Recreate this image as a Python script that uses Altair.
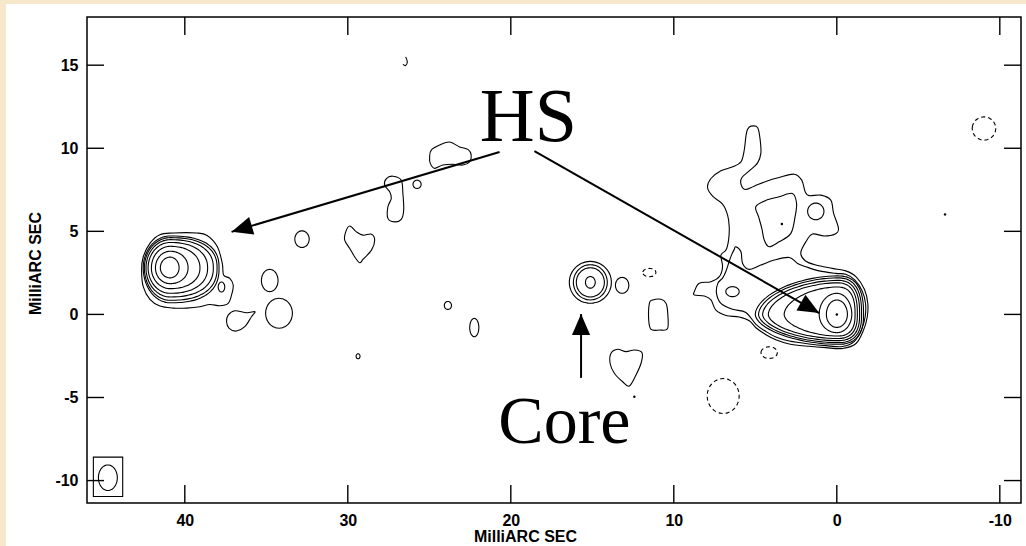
import altair as alt
import numpy as np
import pandas as pd

# ---- frame (milliarcseconds, RA increases to the left) ----
X_DOMAIN = [46.0, -11.3]
Y_DOMAIN = [-11.35, 17.9]
W, H = 934, 486

x_ticks = [40, 30, 20, 10, 0, -10]
y_ticks = [15, 10, 5, 0, -5, -10]

# ---- nested contours of the western hot spot (egg-shaped levels) ----
lh_center = (40.90, 2.80)
lh_x_hi = [41.50, 41.80, 42.05, 42.25, 42.38, 42.48, 42.55]
lh_x_lo = [40.35, 39.80, 39.07, 38.60, 38.25, 38.02, 37.90]
lh_y_hi = [3.45, 3.80, 4.10, 4.33, 4.50, 4.62, 4.72]
lh_y_lo = [2.20, 1.85, 1.55, 1.27, 1.05, 0.85, 0.70]

# lowest level around the western hot spot, with its eastern lobe
lh_outer = [(42.65, 2.67), (42.55, 3.47), (42.14, 4.28), (41.53, 4.80), (40.71, 4.90),
            (39.28, 4.90), (38.63, 4.75), (38.00, 4.07), (37.70, 3.07), (37.62, 2.37),
            (37.24, 2.17), (37.03, 1.77), (37.13, 1.17), (37.34, 0.67), (37.85, 0.52),
            (38.46, 0.60), (39.07, 0.46), (39.89, 0.38), (40.71, 0.38), (41.53, 0.50),
            (42.14, 0.90), (42.55, 1.67)]

# ---- nested contours of the eastern hot spot ----
rh_center = (0.0, 0.0)
rh_x_hi = [0.64, 1.08, 3.23, 4.20, 4.55, 4.80, 5.00]
rh_x_lo = [-0.65, -0.92, -1.12, -1.26, -1.40, -1.52, -1.64]
rh_y_hi = [0.87, 1.27, 1.65, 1.90, 2.05, 2.20, 2.32]
rh_y_lo = [-0.78, -1.10, -1.30, -1.45, -1.58, -1.70, -1.80]

# lowest level: eastern hot spot, jet and the diffuse emission to the north
jet_outer = [(5.27, 11.33), (4.86, 11.25), (4.70, 10.49), (4.66, 9.69), (4.86, 9.12),
             (5.37, 8.64), (5.82, 8.24), (5.88, 7.84), (5.62, 7.52), (5.07, 7.72),
             (4.31, 8.02), (3.54, 8.24), (2.62, 8.44), (2.15, 8.08), (1.94, 7.38),
             (1.70, 7.15), (0.98, 7.18), (0.37, 6.88), (0.20, 6.10), (-0.10, 5.18),
             (0.10, 4.84), (0.78, 4.72), (1.49, 4.84), (1.90, 4.37), (2.21, 3.71),
             (1.94, 3.23), (1.29, 2.97), (0.27, 2.77), (-0.55, 2.62), (-1.20, 2.25),
             (-1.70, 1.50), (-1.90, 0.67), (-1.87, -0.14), (-1.64, -0.94), (-1.18, -1.75),
             (-0.35, -2.05), (0.68, -2.00), (1.70, -1.92), (2.92, -1.78), (3.74, -1.52),
             (4.35, -1.22), (4.96, -0.80), (5.37, -0.38), (5.99, -0.16), (6.80, -0.06),
             (7.42, 0.26), (7.72, 0.87), (8.13, 1.11), (8.74, 1.17), (8.74, 1.37),
             (8.44, 1.87), (7.72, 1.97), (7.21, 2.27), (7.01, 2.87), (7.11, 3.57),
             (6.80, 3.87), (6.64, 4.47), (6.60, 5.28), (6.70, 5.98), (7.01, 6.64),
             (7.62, 7.12), (7.93, 7.64), (7.72, 8.18), (7.11, 8.64), (6.39, 8.88),
             (5.88, 9.18), (5.68, 9.88), (5.58, 10.69), (5.48, 11.13)]

# second level around the eastern hot spot and jet
jet_second = [(6.30, 3.90), (6.19, 4.07), (5.88, 3.77), (5.78, 3.07), (5.37, 2.71),
              (4.66, 2.97), (3.84, 3.27), (2.92, 3.43), (2.41, 3.07), (1.90, 2.87),
              (1.08, 2.62), (0.06, 2.47), (-0.55, 2.42), (-1.10, 2.08), (-1.55, 1.42),
              (-1.76, 0.67), (-1.74, -0.14), (-1.52, -0.90), (-1.08, -1.62), (-0.35, -1.93),
              (0.68, -1.88), (1.70, -1.78), (2.92, -1.60), (3.74, -1.36), (4.35, -1.03),
              (4.96, -0.60), (5.58, 0.12), (6.40, 0.31), (7.11, 0.67), (7.38, 1.27),
              (7.30, 1.87), (7.00, 2.20), (6.80, 2.60), (6.60, 3.20), (6.45, 3.60)]

# second level in the northern diffuse emission
north_second = [(4.97, 6.48), (4.31, 6.88), (3.54, 7.08), (2.72, 7.28), (2.47, 6.68),
                (2.56, 5.88), (2.82, 4.88), (3.54, 4.37), (4.15, 4.07), (4.45, 4.47),
                (4.60, 5.18), (4.80, 5.88)]

# ---- isolated low-level islands ----
island_teardrop = [(37.34, -0.04), (36.93, 0.22), (36.21, 0.10), (35.70, 0.16), (35.91, -0.14),
                   (36.32, -0.74), (36.83, -1.00), (37.28, -0.84), (37.44, -0.44)]
island_heart_w = [(29.88, 5.32), (29.47, 4.97), (29.07, 4.77), (28.55, 4.83), (28.35, 4.47),
                  (28.55, 3.87), (29.07, 3.31), (29.27, 3.11), (29.58, 3.47), (29.88, 3.97),
                  (30.19, 4.47), (30.13, 4.97)]
island_finger = [(27.63, 8.18), (27.23, 8.32), (26.72, 8.08), (26.62, 7.28), (26.57, 6.28),
                 (26.72, 5.72), (27.13, 5.57), (27.54, 5.78), (27.54, 6.48), (27.33, 6.98),
                 (27.43, 7.38), (27.74, 7.78)]
island_north = [(24.88, 9.89), (24.37, 10.19), (23.76, 10.38), (23.14, 10.08), (22.63, 9.93),
                (22.43, 9.59), (22.53, 9.18), (22.94, 8.99), (23.55, 9.04), (24.17, 8.99),
                (24.68, 8.79), (24.94, 9.09), (24.98, 9.48)]
island_box = [(11.50, 0.67), (11.30, 0.87), (10.78, 0.91), (10.48, 0.67), (10.38, 0.16),
              (10.38, -0.84), (10.89, -0.94), (11.40, -0.90), (11.54, -0.34)]
island_heart_s = [(13.85, -2.34), (13.44, -2.10), (12.93, -2.24), (12.42, -2.14), (11.95, -2.30),
                  (12.01, -2.94), (12.32, -3.64), (12.73, -4.31), (13.14, -4.05), (13.65, -3.54),
                  (13.91, -2.94)]
hook_top = [(26.45, 15.50), (26.35, 15.20), (26.45, 14.98), (26.62, 15.05)]

# ---- small elliptical contours (centre, semi-axes) ----
ell_x = [34.79, 34.22, 32.81, 25.75, 29.37, 23.86, 22.24,
         15.12, 15.12, 15.12, 15.12, 13.17, 1.29, 6.40, 37.75, 44.72]
ell_y = [2.04, 0.07, 4.53, 7.83, -2.52, 0.54, -0.79,
         1.93, 1.93, 1.93, 1.93, 1.75, 6.20, 1.37, 1.65, -9.83]
ell_rx = [0.51, 0.82, 0.44, 0.25, 0.12, 0.22, 0.28,
          0.30, 0.86, 1.04, 1.29, 0.41, 0.50, 0.41, 0.20, 0.58]
ell_ry = [0.67, 0.90, 0.50, 0.25, 0.15, 0.24, 0.55,
          0.35, 0.88, 1.06, 1.26, 0.48, 0.50, 0.30, 0.30, 0.77]

# negative contours (dashed)
neg_x = [11.50, 6.97, 4.15, -9.03]
neg_y = [2.52, -4.91, -2.30, 11.19]
neg_rx = [0.40, 0.98, 0.50, 0.72]
neg_ry = [0.25, 1.05, 0.35, 0.70]

# peak markers
dot_x = [0.0, 3.37, 12.42, -6.64]
dot_y = [0.0, 5.44, -4.95, 6.02]

# restoring-beam box
beam_box_x = [45.61, 43.81]
beam_box_y = [-8.59, -10.96]

# annotation arrows: start -> tip
arrow_x0 = [20.69, 18.55, 15.69]
arrow_y0 = [9.77, 9.83, -3.82]
arrow_x1 = [37.13, 1.08, 15.69]
arrow_y1 = [4.97, 0.08, 0.02]

# annotation text
label_text = ["HS", "Core"]
label_x = [18.92, 16.71]
label_y = [10.45, -7.74]
label_size = [76, 68]


def egg(xc, yc, x_hi, x_lo, y_hi, y_lo, n_hi=2.0, n_lo=2.0, k=96):
    t = np.linspace(0, 2 * np.pi, k, endpoint=False)
    c, s = np.cos(t), np.sin(t)
    n = np.where(c >= 0, n_hi, n_lo)
    u = np.sign(c) * np.abs(c) ** (2 / n)
    v = np.sign(s) * np.abs(s) ** (2 / n)
    x = np.where(c >= 0, xc + (x_hi - xc) * u, xc + (xc - x_lo) * u)
    y = np.where(s >= 0, yc + (y_hi - yc) * v, yc + (yc - y_lo) * v)
    return list(zip(x, y))


closed_rows, dashed_rows, open_rows = [], [], []


def add(rows, cid, pts):
    for i, (x, y) in enumerate(pts):
        rows.append({"cid": cid, "i": i, "x": float(x), "y": float(y)})


cid = 0
for k in range(len(lh_x_hi)):
    add(closed_rows, cid, egg(*lh_center, lh_x_hi[k], lh_x_lo[k], lh_y_hi[k], lh_y_lo[k],
                              n_hi=2.0, n_lo=2.0 + 0.08 * k))
    cid += 1
for k in range(len(rh_x_hi)):
    nh, nl = (2.0, 2.0) if k < 2 else (1.8, 2.6)
    add(closed_rows, cid, egg(*rh_center, rh_x_hi[k], rh_x_lo[k], rh_y_hi[k], rh_y_lo[k],
                              n_hi=nh, n_lo=nl))
    cid += 1
for poly in [lh_outer, jet_outer, jet_second, north_second, island_teardrop, island_heart_w,
             island_finger, island_north, island_box, island_heart_s]:
    add(closed_rows, cid, poly)
    cid += 1
for xc, yc, rx, ry in zip(ell_x, ell_y, ell_rx, ell_ry):
    add(closed_rows, cid, egg(xc, yc, xc + rx, xc - rx, yc + ry, yc - ry, k=48))
    cid += 1
for xc, yc, rx, ry in zip(neg_x, neg_y, neg_rx, neg_ry):
    add(dashed_rows, cid, egg(xc, yc, xc + rx, xc - rx, yc + ry, yc - ry, k=48))
    cid += 1
add(open_rows, cid, hook_top)

closed_df = pd.DataFrame(closed_rows)
dashed_df = pd.DataFrame(dashed_rows)
open_df = pd.DataFrame(open_rows)

# arrow heads rotated along each shaft (screen pixels per mas)
sx = W / (X_DOMAIN[0] - X_DOMAIN[1])
sy = H / (Y_DOMAIN[1] - Y_DOMAIN[0])
arrows = pd.DataFrame({"x0": arrow_x0, "y0": arrow_y0, "x1": arrow_x1, "y1": arrow_y1})
dxp = -(arrows.x1 - arrows.x0) * sx
dyp = -(arrows.y1 - arrows.y0) * sy
arrows["ang"] = (np.degrees(np.arctan2(dxp, -dyp)) + 360) % 360

xs = alt.Scale(domain=X_DOMAIN, nice=False, zero=False)
ys = alt.Scale(domain=Y_DOMAIN, nice=False, zero=False)

LBL = dict(labelFont="Liberation Sans", labelFontWeight="bold", labelFontSize=16,
           labelColor="black", ticks=False, domain=False, grid=False, zindex=1,
           titleFont="Liberation Sans", titleFontWeight="bold", titleFontSize=16,
           titleColor="black", labelExpr="'' + datum.value")
x_axis = alt.Axis(values=x_ticks, labelPadding=9, title="MilliARC SEC",
                  titleX=438, titleY=38, titleBaseline="alphabetic", **LBL)
y_axis = alt.Axis(values=y_ticks, labelPadding=9, title="MilliARC SEC",
                  titleX=-52, titleY=246, titleAngle=270, titleBaseline="middle", **LBL)
X = alt.X("x:Q", scale=xs, axis=x_axis)
Y = alt.Y("y:Q", scale=ys, axis=y_axis)

panel = alt.Chart(pd.DataFrame({"a": [0]})).mark_rect(fill="white", clip=False).encode(
    x=alt.value(-81), x2=alt.value(W + 10), y=alt.value(-13), y2=alt.value(H + 50))

contours = alt.Chart(closed_df).mark_line(
    interpolate="cardinal-closed", color="black", strokeWidth=1.1).encode(
    x=X, y=Y, detail="cid:N", order="i:Q")
neg = alt.Chart(dashed_df).mark_line(
    interpolate="cardinal-closed", color="black", strokeWidth=1.1, strokeDash=[4, 3]).encode(
    x=X, y=Y, detail="cid:N", order="i:Q")
hook = alt.Chart(open_df).mark_line(
    interpolate="cardinal", color="black", strokeWidth=1.1).encode(
    x=X, y=Y, order="i:Q")
dots = alt.Chart(pd.DataFrame({"x": dot_x, "y": dot_y})).mark_point(
    filled=True, color="black", size=6, opacity=1).encode(x=X, y=Y)

beam_box = alt.Chart(pd.DataFrame({"x": [beam_box_x[0]], "x2": [beam_box_x[1]],
                                   "y": [beam_box_y[0]], "y2": [beam_box_y[1]]})).mark_rect(
    fill=None, stroke="black", strokeWidth=1.1).encode(x=X, x2="x2:Q", y=Y, y2="y2:Q")

shafts = alt.Chart(arrows).mark_rule(color="black", strokeWidth=2).encode(
    x=alt.X("x0:Q", scale=xs, axis=x_axis), y=alt.Y("y0:Q", scale=ys, axis=y_axis),
    x2="x1:Q", y2="y1:Q")
heads = alt.Chart(arrows).mark_point(
    shape="M0,0L0.65,1.5L-0.65,1.5Z", filled=True, color="black", opacity=1,
    size=784, strokeWidth=0).encode(
    x=alt.X("x1:Q", scale=xs, axis=x_axis), y=alt.Y("y1:Q", scale=ys, axis=y_axis),
    angle=alt.Angle("ang:Q", scale=None))

labels = alt.Chart(pd.DataFrame({"t": label_text, "x": label_x, "y": label_y,
                                 "s": label_size})).mark_text(
    font="Liberation Serif", color="black", align="center",
    baseline="alphabetic").encode(x=X, y=Y, text="t:N", size=alt.Size("s:Q", scale=None))

tick_x = pd.DataFrame({"x": x_ticks})
tick_y = pd.DataFrame({"y": y_ticks})
tick_style = dict(color="black", strokeWidth=1.4)
ticks_bottom = alt.Chart(tick_x).mark_rule(**tick_style).encode(
    x=X, y=alt.value(H), y2=alt.value(H - 18))
ticks_top = alt.Chart(tick_x).mark_rule(**tick_style).encode(
    x=X, y=alt.value(0), y2=alt.value(18))
ticks_left = alt.Chart(tick_y).mark_rule(**tick_style).encode(
    y=Y, x=alt.value(0), x2=alt.value(17))
ticks_right = alt.Chart(tick_y).mark_rule(**tick_style).encode(
    y=Y, x=alt.value(W), x2=alt.value(W - 17))

frame = alt.Chart(pd.DataFrame({"a": [0]})).mark_rect(
    fill=None, stroke="black", strokeWidth=1.5).encode(
    x=alt.value(0), x2=alt.value(W), y=alt.value(0), y2=alt.value(H))

chart = alt.layer(
    panel, contours, neg, hook, dots, beam_box, shafts, heads, labels,
    ticks_bottom, ticks_top, ticks_left, ticks_right, frame
).properties(
    width=W, height=H,
    padding={"left": 87, "top": 17, "right": 5, "bottom": 43},
    autosize=alt.AutoSizeParams(type="none"),
).configure(background="#F7E8CC").configure_view(stroke=None)

chart.save("out.html", embed_options={"renderer": "svg", "actions": False})
